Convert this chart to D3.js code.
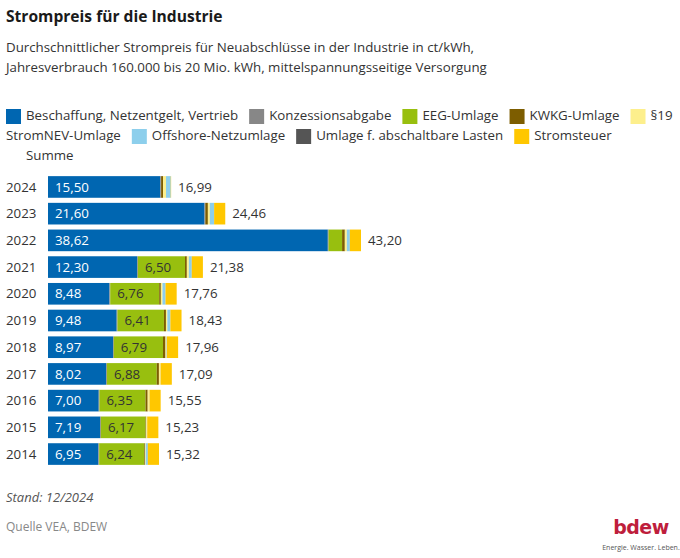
<!DOCTYPE html>
<html lang="de">
<head>
<meta charset="utf-8">
<script src="https://cdn.jsdelivr.net/npm/d3@7"></script>
<style>
  body { margin: 0; background: #fff; font-family: "Open Sans", sans-serif; }
  svg { display: block; }
</style>
</head>
<body>
<svg id="chart" width="680" height="558"></svg>
<script>
// Werte in ct/kWh
const years = ['2024', '2023', '2022', '2021', '2020', '2019', '2018', '2017', '2016', '2015', '2014'];
const beschaffung = [15.50, 21.60, 38.62, 12.30, 8.48, 9.48, 8.97, 8.02, 7.00, 7.19, 6.95];
const konzession = [0.11, 0.11, 0.11, 0.11, 0.11, 0.11, 0.11, 0.11, 0.11, 0.11, 0.11];
const eeg = [0, 0, 1.86, 6.50, 6.76, 6.41, 6.79, 6.88, 6.35, 6.17, 6.24];
const kwkg = [0.275, 0.357, 0.378, 0.254, 0.226, 0.280, 0.345, 0.30, 0.30, 0.08, 0.10];
const par19 = [0.40, 0.27, 0.276, 0.275, 0.224, 0.192, 0.16, 0.237, 0.213, 0.10, 0.092];
const offshore = [0.656, 0.591, 0.419, 0.395, 0.416, 0.416, 0.037, 0, 0.04, 0.043, 0.282];
const abschaltbar = [0, 0, 0, 0.009, 0.007, 0.005, 0.011, 0.006, 0, 0, 0.009];
const stromsteuer = [0.05, 1.537, 1.537, 1.537, 1.537, 1.537, 1.537, 1.537, 1.537, 1.537, 1.537];
const summe = [16.99, 24.46, 43.20, 21.38, 17.76, 18.43, 17.96, 17.09, 15.55, 15.23, 15.32];

const seriesNames = ['Beschaffung, Netzentgelt, Vertrieb', 'Konzessionsabgabe', 'EEG-Umlage', 'KWKG-Umlage',
  '§19 StromNEV-Umlage', 'Offshore-Netzumlage', 'Umlage f. abschaltbare Lasten', 'Stromsteuer'];
const seriesColors = ['#0066b1', '#878787', '#98bf0f', '#7d5d00', '#fdef8c', '#8dcfec', '#555555', '#ffc700'];
const seriesValues = [beschaffung, konzession, eeg, kwkg, par19, offshore, abschaltbar, stromsteuer];

const fmt = v => d3.format('.2f')(v).replace('.', ',');
const textColor = '#333';

// Tabelle fuer d3.stack
const keys = seriesNames;
const table = years.map((y, i) => {
  const row = { year: y, summe: summe[i] };
  keys.forEach((k, j) => { row[k] = seriesValues[j][i]; });
  return row;
});

const svg = d3.select('#chart');

// Kopf
svg.append('text')
  .attr('x', 6).attr('y', 22)
  .attr('font-size', 15.6).attr('font-weight', 700).attr('fill', '#1a1a1a')
  .text('Strompreis für die Industrie');

const subLines = [
  'Durchschnittlicher Strompreis für Neuabschlüsse in der Industrie in ct/kWh,',
  'Jahresverbrauch 160.000 bis 20 Mio. kWh, mittelspannungsseitige Versorgung'
];
svg.selectAll('text.sub').data(subLines).join('text')
  .attr('class', 'sub')
  .attr('x', 6).attr('y', (d, i) => 52 + i * 20)
  .attr('font-size', 13.3).attr('fill', textColor)
  .text(d => d);

// Legende: einfacher Zeilenumbruch wie im Original
const legendData = seriesNames.map((n, i) => ({ name: n, color: seriesColors[i] }))
  .concat([{ name: 'Summe', color: null }]);
const legend = svg.append('g').attr('font-size', 13.3).attr('fill', textColor);
const lgLeft = 6, lgRight = 676, lgTop = 115, lgRow = 20, sw = 15;

const measure = legend.append('text').attr('visibility', 'hidden');
const textWidth = s => measure.text(s).node().getComputedTextLength();

let cx = lgLeft, row = 0;
legendData.forEach(item => {
  const words = item.name.split(' ');
  let first = words[0];
  if (cx + sw + 5 + textWidth(first) > lgRight) { cx = lgLeft; row++; }
  if (item.color) {
    legend.append('rect')
      .attr('x', cx).attr('y', lgTop + row * lgRow - 6)
      .attr('width', sw).attr('height', sw)
      .attr('fill', item.color);
  }
  let lineX = cx + sw + 5, line = first;
  words.slice(1).forEach(w => {
    if (lineX + textWidth(line + ' ' + w) > lgRight) {
      legend.append('text').attr('x', lineX).attr('y', lgTop + row * lgRow)
        .attr('dy', '0.35em').text(line);
      row++; lineX = lgLeft; line = w;
    } else {
      line += ' ' + w;
    }
  });
  legend.append('text').attr('x', lineX).attr('y', lgTop + row * lgRow)
    .attr('dy', '0.35em').text(line);
  cx = lineX + textWidth(line) + 11;
});
measure.remove();

// Skalen
const x = d3.scaleLinear().domain([0, 43.2]).range([48, 361]);
const y = d3.scaleBand().domain(years).range([173.6, 467.4]).paddingInner(0.19).paddingOuter(0.095);

const stacked = d3.stack().keys(keys)(table);

svg.append('g').selectAll('g').data(stacked).join('g')
  .attr('fill', (d, i) => seriesColors[i])
  .selectAll('rect').data(d => d).join('rect')
  .attr('x', d => x(d[0]))
  .attr('y', d => y(d.data.year))
  .attr('width', d => Math.max(0, x(d[1]) - x(d[0])))
  .attr('height', y.bandwidth());

// Jahreszahlen
svg.append('g').selectAll('text').data(years).join('text')
  .attr('x', 6)
  .attr('y', d => y(d) + y.bandwidth() / 2)
  .attr('dy', '0.35em')
  .attr('font-size', 13.3).attr('fill', textColor)
  .text(d => d);

// Werte in den Balken
const labels = svg.append('g').attr('font-size', 13.3);
labels.selectAll('text.b').data(stacked[0]).join('text')
  .attr('class', 'b')
  .attr('x', d => x(d[0]) + 7)
  .attr('y', d => y(d.data.year) + y.bandwidth() / 2)
  .attr('dy', '0.35em')
  .attr('fill', '#fff')
  .text(d => fmt(d[1] - d[0]));

labels.selectAll('text.e').data(stacked[2].filter(d => d[1] - d[0] > 3)).join('text')
  .attr('class', 'e')
  .attr('x', d => x(d[0]) + 7)
  .attr('y', d => y(d.data.year) + y.bandwidth() / 2)
  .attr('dy', '0.35em')
  .attr('fill', textColor)
  .text(d => fmt(d[1] - d[0]));

labels.selectAll('text.s').data(table).join('text')
  .attr('class', 's')
  .attr('x', d => x(d.summe) + 7)
  .attr('y', d => y(d.year) + y.bandwidth() / 2)
  .attr('dy', '0.35em')
  .attr('fill', textColor)
  .text(d => fmt(d.summe));

// Fuss
svg.append('text')
  .attr('x', 6).attr('y', 502)
  .attr('font-size', 13).attr('font-style', 'italic').attr('fill', '#555')
  .text('Stand: 12/2024');

svg.append('text')
  .attr('x', 6).attr('y', 531)
  .attr('font-size', 12).attr('fill', '#888')
  .text('Quelle VEA, BDEW');

svg.append('text')
  .attr('x', 641).attr('y', 534)
  .attr('text-anchor', 'middle')
  .attr('font-family', '"DejaVu Sans", sans-serif')
  .attr('font-size', 19).attr('font-weight', 700).attr('fill', '#be1e3c')
  .attr('letter-spacing', -0.5)
  .text('bdew');

svg.append('text')
  .attr('x', 641).attr('y', 550)
  .attr('text-anchor', 'middle')
  .attr('font-size', 7).attr('fill', '#555')
  .text('Energie. Wasser. Leben.');
</script>
</body>
</html>
